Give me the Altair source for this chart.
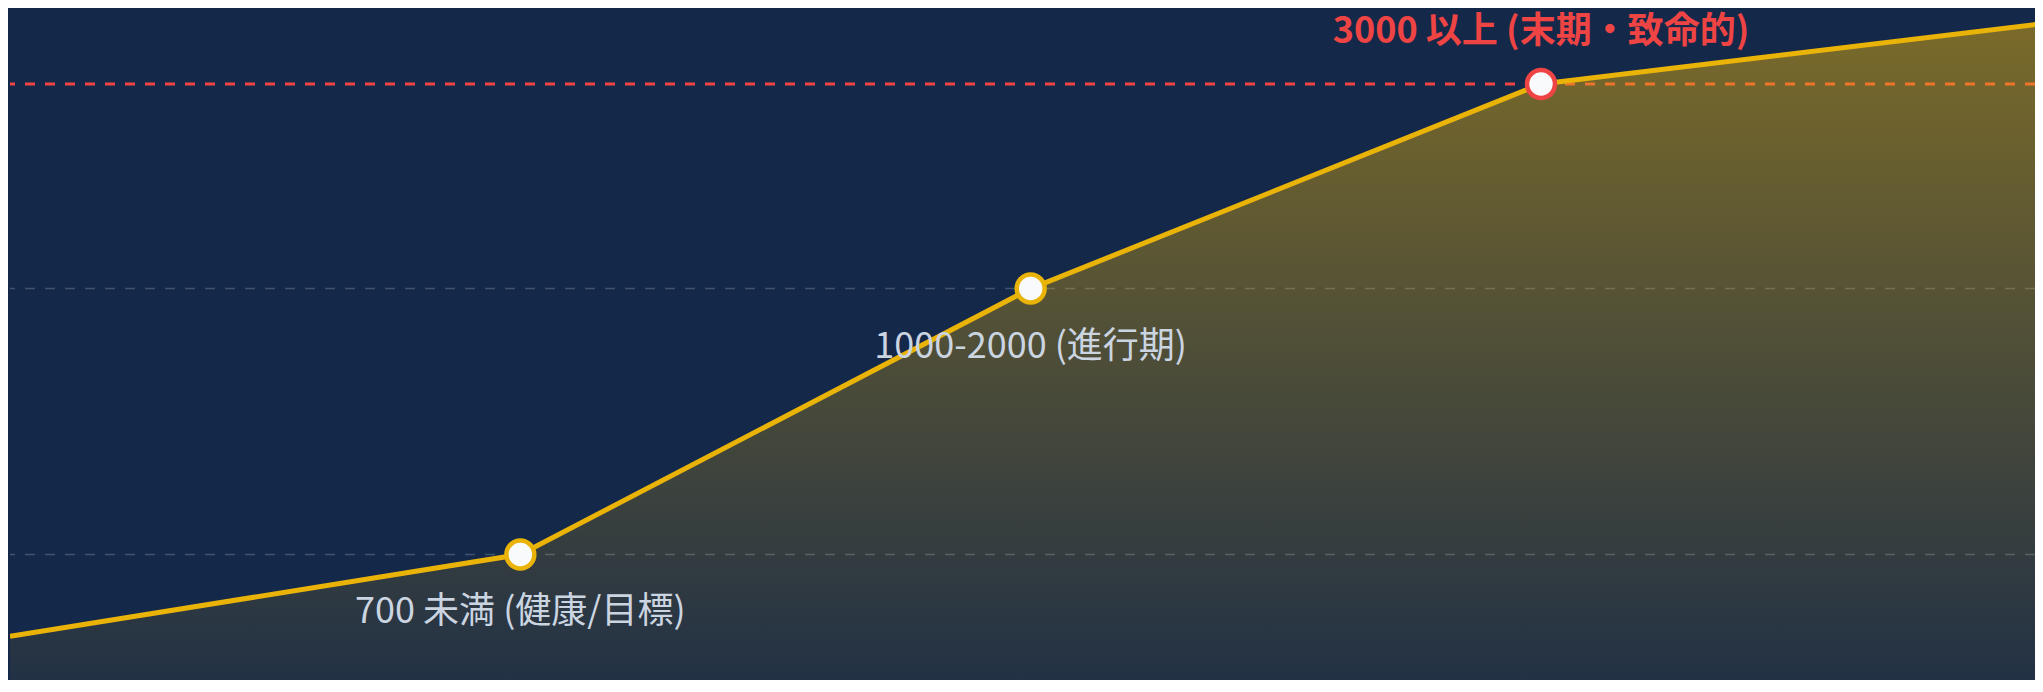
import altair as alt
import pandas as pd

# ---- data ----
stage_pos = [0, 1, 2, 3, 4]
levels = [300, 700, 2000, 3000, 3300]
stage_labels = ["", "700 未満 (健康/目標)", "1000-2000 (進行期)", "3000 以上 (末期・致命的)", ""]
label_kind = ["none", "normal", "normal", "critical", "none"]
marker_kind = ["none", "normal", "normal", "critical", "none"]
grid_levels = [700, 2000]
critical_level = [3000]

BG = "#142849"
YELLOW = "#eab308"
RED = "#ef4444"
FONT = "Noto Sans CJK JP"

W, H = 2025, 672
xs = alt.Scale(domain=[0, 3.968], nice=False, zero=False)
ys = alt.Scale(domain=[86.5, 3371.5], nice=False, zero=False)

df = pd.DataFrame({"x": stage_pos, "v": levels, "label": stage_labels,
                   "lk": label_kind, "mk": marker_kind})
grid_df = pd.DataFrame({"v": grid_levels})
crit_df = pd.DataFrame({"v": critical_level})

base = alt.Chart(df)
X = alt.X("x:Q", scale=xs, axis=None)
Y = alt.Y("v:Q", scale=ys, axis=None)

grid = alt.Chart(grid_df).mark_rule(
    stroke="#94a3b8", strokeOpacity=0.35, strokeWidth=1.5, strokeDash=[10, 10]
).encode(y=Y)

crit = alt.Chart(crit_df).mark_rule(
    stroke=RED, strokeWidth=3, strokeDash=[10, 10]
).encode(y=Y)

area = base.mark_area(
    clip=True,
    fill=alt.Gradient(
        gradient="linear",
        stops=[alt.GradientStop(color="rgba(234,179,8,0.48)", offset=0),
               alt.GradientStop(color="rgba(234,179,8,0.055)", offset=1)],
        x1=1, x2=1, y1=0, y2=1,
    ),
).encode(x=X, y=Y, y2=alt.value(H))

line = base.mark_line(clip=True, color=YELLOW, strokeWidth=5, strokeJoin="round").encode(x=X, y=Y)

pts_normal = base.transform_filter(alt.datum.mk == "normal").mark_point(
    shape="circle", filled=False, fill="#f8fafc", fillOpacity=1, opacity=1,
    size=780, stroke=YELLOW, strokeWidth=4.5,
).encode(x=X, y=Y)

pts_crit = base.transform_filter(alt.datum.mk == "critical").mark_point(
    shape="circle", filled=False, fill="#f8fafc", fillOpacity=1, opacity=1,
    size=780, stroke=RED, strokeWidth=4.5,
).encode(x=X, y=Y)

txt_normal = base.transform_filter(alt.datum.lk == "normal").mark_text(
    font=FONT, fontSize=36, color="#cbd5e1", align="center", baseline="middle", dy=58,
).encode(x=X, y=Y, text="label:N")

txt_crit = base.transform_filter(alt.datum.lk == "critical").mark_text(
    font=FONT, fontSize=36, fontWeight="bold", color=RED, align="center",
    baseline="middle", dy=-52,
).encode(x=X, y=Y, text="label:N")

chart = alt.layer(
    grid, crit, area, line, pts_normal, pts_crit, txt_normal, txt_crit
).properties(
    width=W, height=H,
    padding={"left": 2, "top": 0, "right": 0, "bottom": 0},
    autosize=alt.AutoSizeParams(type="none"),
    background=BG,
).configure_view(stroke=None)

chart.save("out.html", embed_options={"renderer": "svg", "actions": False})
